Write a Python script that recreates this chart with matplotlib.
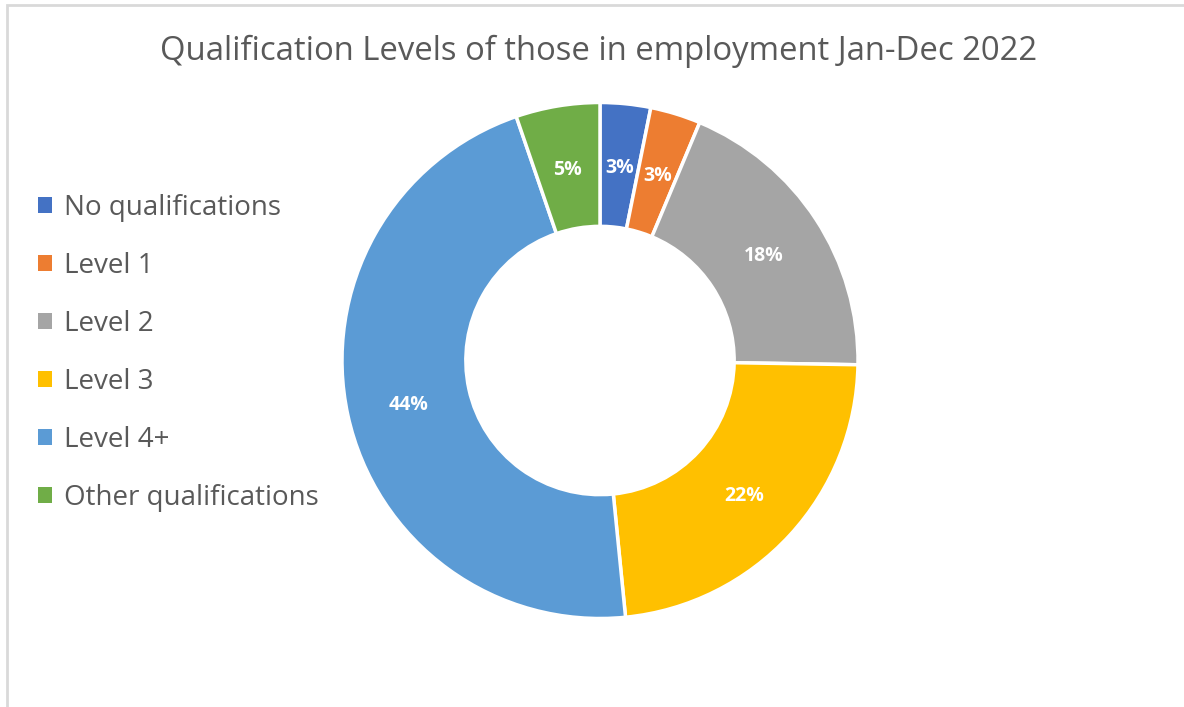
import matplotlib.pyplot as plt
from matplotlib.patches import Patch, Rectangle
import numpy as np

plt.rcParams['font.family'] = ['Open Sans', 'DejaVu Sans']

categories = ["No qualifications", "Level 1", "Level 2", "Level 3",
              "Level 4+", "Other qualifications"]
shares = [0.03, 0.03, 0.18, 0.22, 0.44, 0.05]   # as shown on the labels
colors = ["#4472C4", "#ED7D31", "#A5A5A5", "#FFC000", "#5B9BD5", "#70AD47"]
title = "Qualification Levels of those in employment Jan-Dec 2022"

W, H = 1184, 707
fig = plt.figure(figsize=(W / 100, H / 100), dpi=100)

# light grey chart border (cut off at right and bottom like the screenshot)
fig.patches.append(Rectangle((7 / W, -0.05), 1.2, 1 - 5 / H + 0.05,
                             transform=fig.transFigure, fill=False,
                             edgecolor="#D9D9D9", linewidth=2))

# donut axes: centre (600, 360) px, outer radius 258 px
R = 258
pad = 1.05
cx, cy = 600, 360.5
ax = fig.add_axes([(cx - R * pad) / W, (H - cy - R * pad) / H,
                   2 * R * pad / W, 2 * R * pad / H])

wedges, _ = ax.pie(shares, colors=colors, startangle=90, counterclock=False,
                   radius=1.0,
                   wedgeprops=dict(width=0.48, edgecolor="white", linewidth=2.5))
ax.set_xlim(-pad, pad)
ax.set_ylim(-pad, pad)
ax.set_aspect("equal")
ax.axis("off")

# value labels in the middle of each ring segment
mid_r = 1 - 0.48 / 2
for w, val in zip(wedges, shares):
    ang = np.deg2rad((w.theta1 + w.theta2) / 2)
    ax.text(mid_r * np.cos(ang), mid_r * np.sin(ang) - 0.012, f"{val:.0%}",
            ha="center", va="center", color="white",
            fontsize=14, fontweight="bold")

fig.text(599 / W, 1 - 51 / H, title, ha="center", va="center",
         fontsize=23.7, color="#595959")

handles = [Patch(facecolor=c, edgecolor="none") for c in colors]
fig.legend(handles, categories, loc="center left",
           bbox_to_anchor=(27 / W, 1 - 352.5 / H), frameon=False,
           fontsize=20, labelcolor="#595959",
           handlelength=0.5, handleheight=0.5, handletextpad=0.45,
           labelspacing=1.08, borderaxespad=0)

plt.savefig("out.png", dpi=100)
